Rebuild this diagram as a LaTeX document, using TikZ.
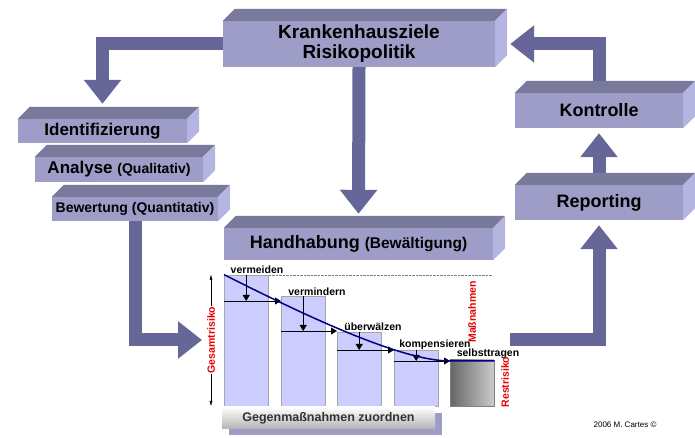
\documentclass[tikz,border=0pt]{standalone}
\usepackage{fontspec}
\setmainfont{Liberation Sans}
\usepackage{tikz}
\usetikzlibrary{calc,arrows.meta,positioning,shadows}
\definecolor{boxfront}{RGB}{158,157,200}
\definecolor{boxtopc}{RGB}{121,121,155}
\definecolor{boxsidec}{RGB}{181,181,225}
\definecolor{flowc}{RGB}{102,102,153}
\definecolor{barc}{RGB}{204,204,255}
\definecolor{curvec}{RGB}{0,0,128}
\definecolor{risikored}{RGB}{230,0,0}

\begin{document}
\begin{tikzpicture}[x=1pt,y=1pt]

\tikzset{box/.style={fill=boxfront,inner sep=0pt,align=center,font=\bfseries\fontsize{18}{20}\selectfont},
boxtop/.style={fill=boxtopc},
boxside/.style={fill=boxsidec},
flow/.style={draw=flowc,line width=13pt,-{Triangle[width=36pt,length=24pt]}},
bar/.style={fill=barc,draw=black!35,anchor=south west,minimum width=44pt,inner sep=0pt},
steparrow/.style={thick,-{Triangle[width=7pt,length=6pt]}},
steplabel/.style={font=\bfseries\fontsize{10.5}{12}\selectfont,inner sep=0pt},
redlabel/.style={font=\bfseries\fontsize{10.5}{12}\selectfont,text=risikored,inner sep=1pt,rotate=90}}

\useasboundingbox (0,0) rectangle (695,438);

% Boxes
\node[box,minimum width=272pt,minimum height=46pt,font=\bfseries\fontsize{19}{20}\selectfont] (kh) at (359,394) {Krankenhausziele\\Risikopolitik};
\node[box,minimum width=169pt,minimum height=24pt,font=\bfseries\fontsize{17}{19}\selectfont] (ident) at (102.5,307) {Identifizierung};
\node[box,minimum width=168pt,minimum height=25pt,font=\bfseries\fontsize{17}{19}\selectfont] (analyse) at (119,268.5) {Analyse {\fontsize{14}{16}\selectfont(Qualitativ)}};
\node[box,minimum width=166pt,minimum height=24pt,font=\bfseries\fontsize{14}{16}\selectfont] (bewertung) at (135,229) {Bewertung (Quantitativ)};
\node[box,minimum width=269pt,minimum height=32pt] (hh) at (358.5,194) {Handhabung {\fontsize{15.5}{17}\selectfont(Bewältigung)}};
\node[box,minimum width=168pt,minimum height=35pt] (kontrolle) at (599,327.5) {Kontrolle};
\node[box,minimum width=168pt,minimum height=35pt] (reporting) at (599,235.5) {Reporting};

% top and side faces
\foreach \b in {kh,ident,analyse,bewertung,hh,kontrolle,reporting} {
  \fill[boxtop] (\b.north west) -- ++(12,12) -- ($(\b.north east)+(12,12)$) -- (\b.north east) -- cycle;
  \fill[boxside] (\b.north east) -- ++(12,12) -- ($(\b.south east)+(12,12)$) -- (\b.south east) -- cycle;
}

% Chart
\draw[densely dotted,gray] (224,163) -- (492,163);
\node[bar,minimum height=131pt] (bar1) at (224,32) {};
\node[bar,minimum height=110pt] (bar2) at (281,32) {};
\node[bar,minimum height=74pt] (bar3) at (337,32) {};
\node[bar,minimum height=56pt] (bar4) at (394,32) {};
\node[bar,minimum height=46pt,draw=black!50,left color=black!60,right color=black!20] (bar5) at (450,32) {};

\foreach \i/\j/\y in {1/2/137, 2/3/107, 3/4/88, 4/5/77} {
  \draw[steparrow] (bar\i.west |- 0,\y) -- (bar\j.west |- 0,\y); % step to next bar
  \draw[steparrow] (bar\i.north) -- (bar\i.north |- 0,\y);
}
\draw[curvec,line width=1.5pt] (bar1.north west) .. controls (300,125) and (400,77) .. (bar5.north west |- 0,77) -- (bar5.north east |- 0,77);

\node[steplabel] (lvermeiden) at (257,168) {vermeiden};
\node[steplabel] (lvermindern) at (317,146) {vermindern};
\node[steplabel] (lueberwaelzen) at (373,111) {überwälzen};
\node[steplabel] (lkompensieren) at (435,93) {kompensieren};
\node[steplabel] (lselbst) at (488,84) {selbsttragen};

\node[redlabel,fill=white] (gesamt) at (211,98) {Gesamtrisiko};
\draw[-{Latex[length=5pt,width=3pt]}] (gesamt.east) -- (gesamt.east |- bar1.north);
\draw[-{Latex[length=5pt,width=3pt]}] (gesamt.west) -- (gesamt.west |- bar1.south);
\node[redlabel] (massnahmen) at (472,126) {Maßnahmen};
\node[redlabel] (restrisiko) at (505,56) {Restrisiko};

\node[minimum width=213pt,minimum height=22pt,inner sep=0pt,top color=white,bottom color=black!30,
  drop shadow={shadow xshift=7pt,shadow yshift=-6pt,fill=boxfront,opacity=1},
  font=\bfseries\fontsize{12.5}{14}\selectfont,text=black!80] (zuordnen) at (328.5,20) {Gegenmaßnahmen zuordnen};

% Flow arrows
\coordinate (chartin) at (202,98);
\coordinate (chartout) at (510,98);
\draw[flow] (kh.west) -| ([yshift=15pt]ident.north);
\draw[flow] (kh.south) -- ([yshift=14pt]hh.north);
\draw[flow] (bewertung.south) |- (chartin);
\draw[flow] (chartout) -| ([yshift=-5pt]reporting.south);
\draw[flow] ([yshift=12pt]reporting.north) -- ([yshift=-5pt]kontrolle.south);
\draw[flow] ([yshift=12pt]kontrolle.north) |- ([xshift=15pt]kh.east);

\node[font=\fontsize{8}{10}\selectfont] (copy) at (625,13) {2006 M. Cartes ©};

\end{tikzpicture}
\end{document}
